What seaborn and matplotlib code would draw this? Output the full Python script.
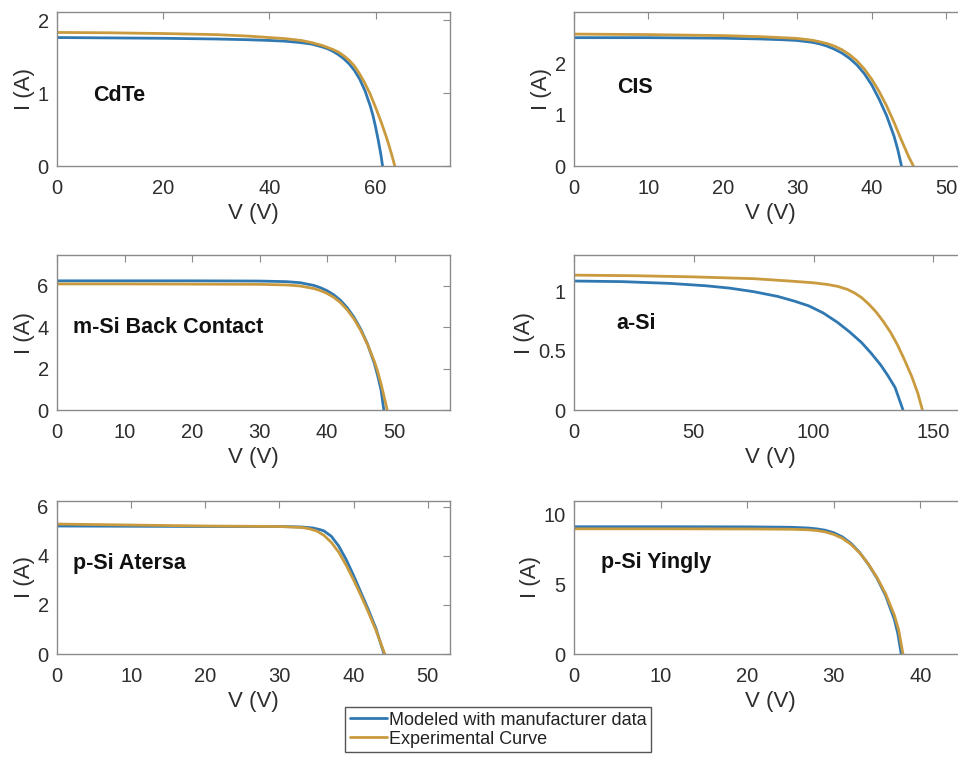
import matplotlib
matplotlib.use("Agg")
import matplotlib.pyplot as plt
import seaborn as sns
import pandas as pd
from matplotlib.lines import Line2D

# ---------------- data ----------------
panel_titles = ["CdTe", "CIS", "m-Si Back Contact", "a-Si", "p-Si Atersa", "p-Si Yingly"]
series_labels = ["Modeled with manufacturer data", "Experimental Curve"]

cdte_v_model = [0, 10, 20, 30, 36, 40, 43, 46, 48, 50, 51, 52, 53, 54, 55, 56, 57, 58, 59, 59.5, 60, 60.5, 61, 61.3]
cdte_i_model = [1.76, 1.755, 1.75, 1.74, 1.73, 1.72, 1.71, 1.69, 1.67, 1.63, 1.605, 1.57, 1.525, 1.47, 1.40, 1.31, 1.19, 1.03, 0.82, 0.69, 0.53, 0.35, 0.15, 0.0]
cdte_v_exp = [0, 10, 20, 30, 36, 40, 43, 46, 48, 50, 52, 53, 54, 55, 56, 57, 58, 59, 60, 61, 62, 62.6, 63.2, 63.6]
cdte_i_exp = [1.83, 1.825, 1.815, 1.80, 1.78, 1.76, 1.745, 1.72, 1.69, 1.65, 1.595, 1.56, 1.51, 1.45, 1.37, 1.26, 1.13, 0.98, 0.80, 0.61, 0.40, 0.26, 0.11, 0.0]

cis_v_model = [0, 10, 20, 25, 28, 30, 32, 33, 34, 35, 36, 37, 38, 39, 40, 41, 42, 43, 43.5, 44]
cis_i_model = [2.50, 2.50, 2.49, 2.475, 2.46, 2.445, 2.41, 2.38, 2.335, 2.275, 2.20, 2.10, 1.97, 1.80, 1.58, 1.30, 0.98, 0.58, 0.32, 0.0]
cis_v_exp = [0, 10, 20, 25, 28, 30, 32, 33, 34, 35, 36, 37, 38, 39, 40, 41, 42, 43, 44, 45, 45.6]
cis_i_exp = [2.57, 2.56, 2.54, 2.52, 2.50, 2.485, 2.45, 2.42, 2.385, 2.335, 2.265, 2.17, 2.05, 1.89, 1.69, 1.45, 1.17, 0.85, 0.50, 0.17, 0.0]

msi_v_model = [0, 10, 20, 30, 34, 36, 38, 39, 40, 41, 42, 43, 44, 45, 46, 47, 47.5, 48, 48.4]
msi_i_model = [6.25, 6.25, 6.25, 6.24, 6.21, 6.16, 6.03, 5.92, 5.77, 5.57, 5.30, 4.94, 4.48, 3.90, 3.18, 2.25, 1.65, 0.95, 0.0]
msi_v_exp = [0, 10, 20, 30, 34, 36, 38, 39, 40, 41, 42, 43, 44, 45, 46, 47, 47.5, 48, 48.4, 48.9]
msi_i_exp = [6.10, 6.10, 6.09, 6.08, 6.05, 6.00, 5.88, 5.78, 5.64, 5.45, 5.19, 4.84, 4.40, 3.84, 3.16, 2.35, 1.85, 1.25, 0.70, 0.0]

asi_v_model = [0, 20, 40, 55, 65, 75, 85, 92, 98, 104, 110, 115, 120, 124, 128, 131, 134, 137.3]
asi_i_model = [1.09, 1.085, 1.07, 1.05, 1.03, 1.00, 0.96, 0.92, 0.88, 0.82, 0.74, 0.66, 0.57, 0.48, 0.38, 0.29, 0.19, 0.0]
asi_v_exp = [0, 25, 50, 75, 90, 100, 106, 110, 114, 117, 120, 123, 126, 129, 132, 135, 138, 141, 143.5, 145.4]
asi_i_exp = [1.14, 1.135, 1.125, 1.11, 1.09, 1.075, 1.06, 1.045, 1.02, 0.99, 0.95, 0.895, 0.83, 0.75, 0.66, 0.55, 0.42, 0.28, 0.14, 0.0]

atersa_v_model = [0, 10, 20, 30, 33, 34.5, 35.5, 36, 37, 38, 39, 40, 41, 42, 43, 44.1]
atersa_i_model = [5.22, 5.21, 5.20, 5.20, 5.18, 5.14, 5.07, 5.02, 4.80, 4.40, 3.85, 3.20, 2.50, 1.80, 1.05, 0.0]
atersa_v_exp = [0, 10, 20, 30, 33, 34, 35, 36, 37, 38, 39, 40, 41, 42, 43, 44.2]
atersa_i_exp = [5.30, 5.26, 5.22, 5.20, 5.16, 5.11, 5.02, 4.84, 4.55, 4.15, 3.62, 3.02, 2.38, 1.70, 0.98, 0.0]

yingly_v_model = [0, 10, 20, 25, 27, 28, 29, 30, 31, 32, 33, 34, 35, 36, 37, 37.4, 37.8]
yingly_i_model = [9.15, 9.15, 9.14, 9.11, 9.06, 9.00, 8.90, 8.72, 8.42, 7.95, 7.30, 6.45, 5.45, 4.20, 2.50, 1.50, 0.0]
yingly_v_exp = [0, 10, 20, 25, 27, 28, 29, 30, 31, 32, 33, 34, 35, 36, 37, 37.5, 38.0]
yingly_i_exp = [9.00, 9.00, 8.99, 8.97, 8.93, 8.88, 8.78, 8.60, 8.32, 7.88, 7.27, 6.48, 5.50, 4.33, 2.80, 1.75, 0.0]

x_ticks = [[0, 20, 40, 60], [0, 10, 20, 30, 40, 50], [0, 10, 20, 30, 40, 50],
           [0, 50, 100, 150], [0, 10, 20, 30, 40, 50], [0, 10, 20, 30, 40]]
y_ticks = [[0, 1, 2], [0, 1, 2], [0, 2, 4, 6], [0, 0.5, 1], [0, 2, 4, 6], [0, 5, 10]]
y_ticklabels = [["0", "1", "2"], ["0", "1", "2"], ["0", "2", "4", "6"],
                ["0", "0.5", "1"], ["0", "2", "4", "6"], ["0", "5", "10"]]
x_limits = [74, 52.8, 58.2, 164, 53, 45.4]
y_limits = [2.11, 3.0, 7.5, 1.31, 6.24, 11.0]

curves = [
    (cdte_v_model, cdte_i_model, cdte_v_exp, cdte_i_exp),
    (cis_v_model, cis_i_model, cis_v_exp, cis_i_exp),
    (msi_v_model, msi_i_model, msi_v_exp, msi_i_exp),
    (asi_v_model, asi_i_model, asi_v_exp, asi_i_exp),
    (atersa_v_model, atersa_i_model, atersa_v_exp, atersa_i_exp),
    (yingly_v_model, yingly_i_model, yingly_v_exp, yingly_i_exp),
]

# ---------------- style ----------------
sns.set_style("white")
plt.rcParams["font.family"] = ["Liberation Sans", "DejaVu Sans"]
plt.rcParams["lines.solid_joinstyle"] = "round"

BLUE = "#2f78b2"
GOLD = "#c99a3e"
SPINE = "#8a8a8a"
TXT = "#2e2e2e"

W, H = 958, 758
fig = plt.figure(figsize=(W / 100, H / 100), dpi=100)
fig.patch.set_facecolor("white")

# axes boxes in pixels
col_left = [57, 574]
row_top = [12, 255, 501]
row_h = [154, 155, 153]
ax_w = 393

text_pos = [(0.092, 0.46), (0.109, 0.51), (0.04, 0.53), (0.109, 0.56), (0.04, 0.59), (0.069, 0.60)]

for k in range(6):
    r, c = divmod(k, 2)
    left = col_left[c] / W
    bottom = 1 - (row_top[r] + row_h[r]) / H
    ax = fig.add_axes([left, bottom, ax_w / W, row_h[r] / H])
    vm, im, ve, ie = curves[k]
    dm = pd.DataFrame({"V": vm, "I": im})
    de = pd.DataFrame({"V": ve, "I": ie})
    sns.lineplot(data=dm, x="V", y="I", ax=ax, color=BLUE, lw=2.0, sort=False, estimator=None)
    sns.lineplot(data=de, x="V", y="I", ax=ax, color=GOLD, lw=2.0, sort=False, estimator=None)
    ax.set_xlim(0, x_limits[k])
    ax.set_ylim(0, y_limits[k])
    ax.set_xticks(x_ticks[k])
    ax.set_yticks(y_ticks[k])
    ax.set_yticklabels(y_ticklabels[k])
    ax.tick_params(axis="both", direction="in", length=5, width=0.8, color=SPINE,
                   labelsize=14.5, labelcolor=TXT, top=True, right=True)
    ax.tick_params(axis="x", pad=9)
    ax.tick_params(axis="y", pad=6)
    for s in ax.spines.values():
        s.set_color(SPINE)
        s.set_linewidth(1.0)
        s.set_visible(True)
    ax.set_xlabel("V (V)", fontsize=16, color=TXT, labelpad=4)
    ax.set_ylabel("I (A)", fontsize=16, color=TXT, labelpad=2)
    tx, ty = text_pos[k]
    ax.text(tx, ty, panel_titles[k], transform=ax.transAxes, fontsize=15.5,
            fontweight="bold", color="#111111", ha="left", va="center")

handles = [Line2D([0], [0], color=BLUE, lw=2.0), Line2D([0], [0], color=GOLD, lw=2.0)]
leg = fig.legend(handles, series_labels, loc="upper left",
                 bbox_to_anchor=(345 / W, 1 - 707 / H), bbox_transform=fig.transFigure,
                 fontsize=13, frameon=True, fancybox=False, framealpha=1,
                 edgecolor="#555555", handlelength=2.1, handletextpad=0.1,
                 labelspacing=0.12, borderpad=0.25, borderaxespad=0)
leg.get_frame().set_linewidth(1.0)
for t in leg.get_texts():
    t.set_color("#222222")

fig.savefig("out.png", dpi=100, facecolor="white")
